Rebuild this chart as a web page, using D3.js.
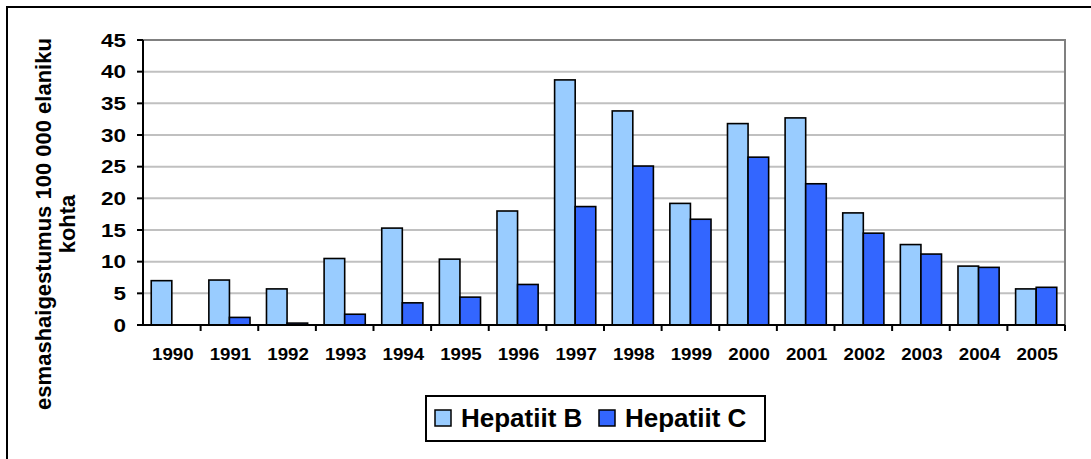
<!DOCTYPE html>
<html>
<head>
<meta charset="utf-8">
<script src="https://cdn.jsdelivr.net/npm/d3@7"></script>
<style>
  body { margin: 0; background: #fff; }
  text { font-family: Arial, "Liberation Sans", sans-serif; font-weight: bold; fill: #000; }
</style>
</head>
<body>
<div id="chart"></div>
<script>
// Chart data
const years = ["1990", "1991", "1992", "1993", "1994", "1995", "1996", "1997",
               "1998", "1999", "2000", "2001", "2002", "2003", "2004", "2005"];
const hepB = [7.0, 7.1, 5.7, 10.5, 15.3, 10.4, 18.0, 38.7, 33.8, 19.2, 31.8, 32.7, 17.7, 12.7, 9.3, 5.7];
const hepC = [0, 1.2, 0.3, 1.7, 3.5, 4.4, 6.4, 18.7, 25.1, 16.7, 26.5, 22.3, 14.5, 11.2, 9.1, 5.95];
const seriesNames = ["Hepatiit B", "Hepatiit C"];
const seriesColors = ["#99CCFF", "#3366FF"];
const yTicks = [0, 5, 10, 15, 20, 25, 30, 35, 40, 45];

const width = 1091, height = 459;
const plot = { left: 143, right: 1065, top: 40, bottom: 325 };

const svg = d3.select("#chart").append("svg")
  .attr("width", width)
  .attr("height", height);

// outer frame (runs off the right and bottom edges)
svg.append("rect")
  .attr("x", 7).attr("y", 7)
  .attr("width", width + 10).attr("height", height + 10)
  .attr("fill", "none").attr("stroke", "#000").attr("stroke-width", 2);

const x0 = d3.scaleBand().domain(years).range([plot.left, plot.right]).paddingInner(0).paddingOuter(0);
const barW = x0.bandwidth() / 2.8;
const x1 = d3.scaleBand().domain([0, 1]).range([0.4 * barW, 2.4 * barW]);
const y = d3.scaleLinear().domain([0, 45]).range([plot.bottom, plot.top]);

// gridlines
svg.append("g").selectAll("line")
  .data(yTicks.filter(d => d > 0))
  .join("line")
  .attr("x1", plot.left).attr("x2", plot.right)
  .attr("y1", d => y(d)).attr("y2", d => y(d))
  .attr("stroke", "#c0c0c0").attr("stroke-width", 2);

// plot border top/right
svg.append("path")
  .attr("d", `M${plot.left},${plot.top}H${plot.right}V${plot.bottom}`)
  .attr("fill", "none").attr("stroke", "#808080").attr("stroke-width", 2);

// bars
const series = [hepB, hepC];
series.forEach((vals, si) => {
  svg.append("g").selectAll("rect")
    .data(vals.map((v, i) => ({ year: years[i], v })).filter(d => d.v > 0))
    .join("rect")
    .attr("x", d => x0(d.year) + x1(si))
    .attr("y", d => y(d.v))
    .attr("width", x1.bandwidth())
    .attr("height", d => y(0) - y(d.v))
    .attr("fill", seriesColors[si])
    .attr("stroke", "#000").attr("stroke-width", 1.6);
});

// axes
svg.append("line")
  .attr("x1", plot.left).attr("x2", plot.left)
  .attr("y1", plot.top).attr("y2", plot.bottom)
  .attr("stroke", "#000").attr("stroke-width", 2);
svg.append("line")
  .attr("x1", plot.left - 6).attr("x2", plot.right)
  .attr("y1", plot.bottom).attr("y2", plot.bottom)
  .attr("stroke", "#000").attr("stroke-width", 2);

// y ticks and labels
svg.append("g").selectAll("line")
  .data(yTicks).join("line")
  .attr("x1", plot.left - 6).attr("x2", plot.left)
  .attr("y1", d => y(d)).attr("y2", d => y(d))
  .attr("stroke", "#000").attr("stroke-width", 2);
svg.append("g").selectAll("text")
  .data(yTicks).join("text")
  .attr("transform", d => `translate(126,${y(d) + 6.5}) scale(1.25,1)`)
  .attr("text-anchor", "end")
  .attr("font-size", 18)
  .text(d => d);

// x ticks (category boundaries) and labels
svg.append("g").selectAll("line")
  .data(years.map(d => x0(d) + x0.bandwidth())).join("line")
  .attr("x1", d => d).attr("x2", d => d)
  .attr("y1", plot.bottom).attr("y2", plot.bottom + 6)
  .attr("stroke", "#000").attr("stroke-width", 2);
svg.append("g").selectAll("text")
  .data(years).join("text")
  .attr("transform", d => `translate(${x0(d) + x0.bandwidth() / 2 + 1},360) scale(1.17,1)`)
  .attr("text-anchor", "middle")
  .attr("font-size", 16)
  .text(d => d);

// y axis title
const title = svg.append("text")
  .attr("transform", "translate(51,224) rotate(-90)")
  .attr("text-anchor", "middle")
  .attr("font-size", 22);
title.append("tspan").attr("x", 0).attr("dy", 0).text("esmashaigestumus 100 000 elaniku");
title.append("tspan").attr("x", 0).attr("dy", 24).text("kohta");

// legend
const legend = svg.append("g");
legend.append("rect")
  .attr("x", 426).attr("y", 396)
  .attr("width", 339).attr("height", 45)
  .attr("fill", "#fff").attr("stroke", "#000").attr("stroke-width", 2);
const legendX = [435, 599];
seriesNames.forEach((name, i) => {
  legend.append("rect")
    .attr("x", legendX[i]).attr("y", 410)
    .attr("width", 16).attr("height", 16)
    .attr("fill", seriesColors[i]).attr("stroke", "#000").attr("stroke-width", 1.5);
  legend.append("text")
    .attr("x", legendX[i] + 26).attr("y", 427)
    .attr("font-size", 26)
    .text(name);
});
</script>
</body>
</html>
